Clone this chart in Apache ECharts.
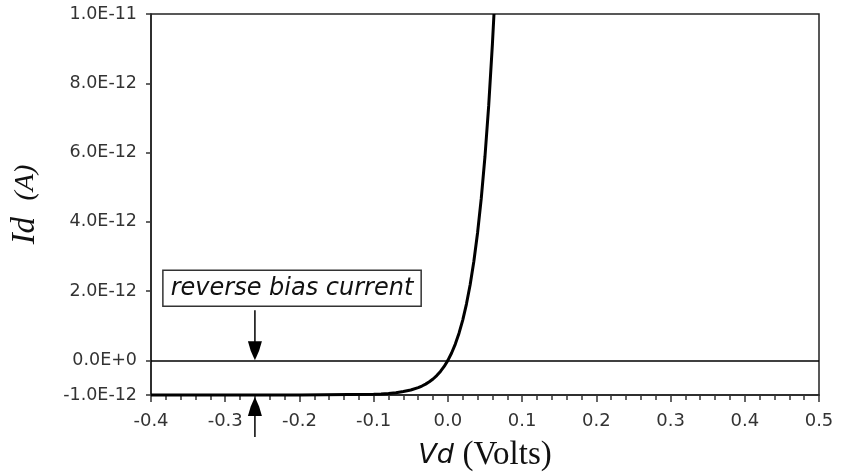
<!DOCTYPE html>
<html>
<head>
<meta charset="utf-8">
<script src="https://cdn.jsdelivr.net/npm/echarts@6/dist/echarts.min.js"></script>
<style>html,body{margin:0;padding:0;background:#fff;}#c{width:849px;height:475px;}</style>
</head>
<body>
<div id="c"></div>
<script>
// Diode voltage (V) and current (A)
const voltage = [-0.4, -0.3, -0.2, -0.1, -0.09, -0.08, -0.07, -0.06, -0.05, -0.04, -0.035, -0.03, -0.025, -0.02, -0.015, -0.01, -0.005, 0, 0.005, 0.01, 0.015, 0.02, 0.025, 0.03, 0.035, 0.04, 0.045, 0.05, 0.055, 0.06, 0.0621];
const currentA = [-1.0e-12, -1.0e-12, -1.0e-12, -0.979e-12, -0.969e-12, -0.954e-12, -0.933e-12, -0.901e-12, -0.855e-12, -0.786e-12, -0.741e-12, -0.686e-12, -0.619e-12, -0.538e-12, -0.44e-12, -0.32e-12, -0.176e-12, 0, 0.213e-12, 0.471e-12, 0.784e-12, 1.164e-12, 1.625e-12, 2.184e-12, 2.862e-12, 3.684e-12, 4.682e-12, 5.893e-12, 7.36e-12, 9.14e-12, 1.0e-11];
const yTicks = [-1e-12, 0, 2e-12, 4e-12, 6e-12, 8e-12, 1e-11];
const annotationText = 'reverse bias current';
const arrowV = -0.26;

const chart = echarts.init(document.getElementById('c'));
const fmtY = v => (Math.abs(v) < 1e-20 ? '0.0E+0' : v.toExponential(1).toUpperCase());

chart.setOption({
  animation: false,
  backgroundColor: '#fff',
  grid: { left: 151, right: 30, top: 14, bottom: 80, outerBoundsMode: 'none', containLabel: false, show: true, borderColor: '#222', borderWidth: 1.5, backgroundColor: '#fff' },
  xAxis: {
    type: 'value', min: -0.4, max: 0.5, interval: 0.1,
    name: '{a|Vd }{b|(Volts)}', nameLocation: 'middle', nameGap: 44,
    nameTextStyle: { rich: {
      a: { fontFamily: 'DejaVu Sans', fontStyle: 'italic', fontSize: 27, color: '#111' },
      b: { fontFamily: 'Liberation Serif', fontSize: 33, color: '#111' } } },
    axisLine: { onZero: false, lineStyle: { color: '#222', width: 1.5 } },
    axisTick: { show: true, length: 7, lineStyle: { color: '#333', width: 1.5 } },
    minorTick: { show: true, splitNumber: 5, length: 5, lineStyle: { color: '#333', width: 1.5 } },
    splitLine: { show: false },
    axisLabel: { margin: 17, fontFamily: 'DejaVu Sans', fontSize: 18, color: '#333', formatter: v => v.toFixed(1) }
  },
  yAxis: {
    type: 'value', min: -1e-12, max: 1e-11,
    name: '{a|Id  }{b|(A)}', nameLocation: 'middle', nameGap: 109, nameRotate: 90,
    nameTextStyle: { rich: {
      a: { fontFamily: 'Liberation Serif', fontStyle: 'italic', fontSize: 33, color: '#111' },
      b: { fontFamily: 'Liberation Serif', fontStyle: 'italic', fontSize: 28, color: '#111' } } },
    axisLine: { show: true, onZero: false, lineStyle: { color: '#222', width: 1.5 } },
    axisTick: { show: true, length: 5, customValues: yTicks, lineStyle: { color: '#333', width: 1.5 } },
    splitLine: { show: false },
    axisLabel: { margin: 14, customValues: yTicks, fontFamily: 'DejaVu Sans', fontSize: 17.5, color: '#333', formatter: fmtY }
  },
  series: [{
    type: 'line',
    data: voltage.map((v, i) => [v, currentA[i]]),
    showSymbol: false,
    lineStyle: { color: '#000', width: 3 },
    clip: false,
    markLine: {
      silent: true, symbol: 'none', label: { show: false },
      lineStyle: { color: '#000', width: 1.5, type: 'solid' },
      data: [{ yAxis: 0 }]
    }
  }]
});

const px = (x, y) => chart.convertToPixel({ gridIndex: 0 }, [x, y]);
const boxTL = px(-0.384, 2.6e-12);
const boxBR = px(-0.036, 1.56e-12);
const downStart = px(arrowV, 1.45e-12);
const downTip = px(arrowV, 0);
const upTip = px(arrowV, -1e-12);
const head = 19, hw = 7;
const upTipY = upTip[1] + 2;

chart.setOption({
  graphic: [
    { type: 'rect', shape: { x: boxTL[0], y: boxTL[1], width: boxBR[0] - boxTL[0], height: boxBR[1] - boxTL[1] },
      style: { fill: '#fff', stroke: '#333', lineWidth: 1.5 }, z: 10 },
    { type: 'text', x: (boxTL[0] + boxBR[0]) / 2, y: (boxTL[1] + boxBR[1]) / 2,
      style: { text: annotationText, fontFamily: 'DejaVu Sans', fontStyle: 'italic', fontSize: 24, fill: '#111', align: 'center', verticalAlign: 'middle' }, z: 11 },
    { type: 'line', shape: { x1: downStart[0], y1: downStart[1], x2: downTip[0], y2: downTip[1] - head + 2 },
      style: { stroke: '#000', lineWidth: 1.5 }, z: 10 },
    { type: 'polygon', shape: { points: [[downTip[0], downTip[1]], [downTip[0] - hw * 0.6, downTip[1] - head * 0.5], [downTip[0] - hw, downTip[1] - head], [downTip[0] + hw, downTip[1] - head], [downTip[0] + hw * 0.6, downTip[1] - head * 0.5]] },
      style: { fill: '#000' }, z: 10 },
    { type: 'line', shape: { x1: upTip[0], y1: upTipY + head - 2, x2: upTip[0], y2: upTipY + 40 },
      style: { stroke: '#000', lineWidth: 1.5 }, z: 10 },
    { type: 'polygon', shape: { points: [[upTip[0], upTipY], [upTip[0] - hw * 0.6, upTipY + head * 0.5], [upTip[0] - hw, upTipY + head], [upTip[0] + hw, upTipY + head], [upTip[0] + hw * 0.6, upTipY + head * 0.5]] },
      style: { fill: '#000' }, z: 10 }
  ]
});
</script>
</body>
</html>
